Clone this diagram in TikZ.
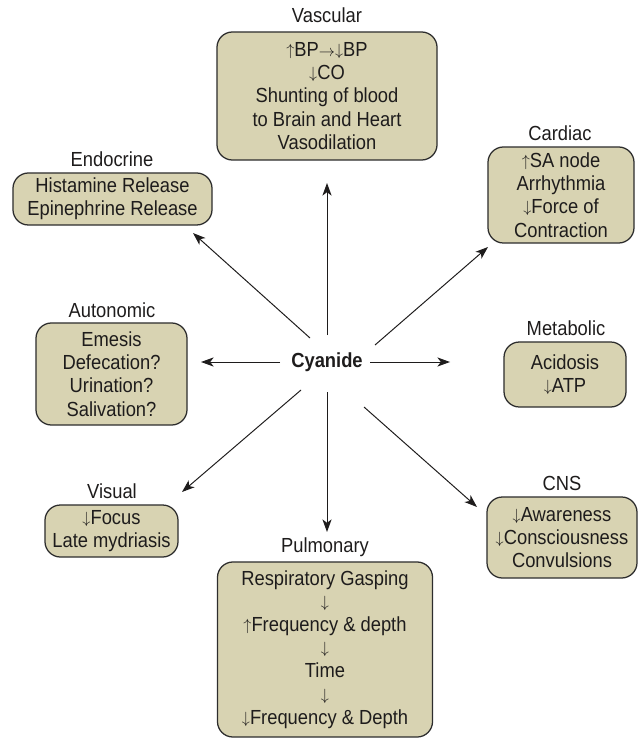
\documentclass[tikz,border=0pt]{standalone}
\usepackage{graphicx}
\usepackage{fontspec}
\setmainfont[FakeStretch=0.9]{Liberation Sans}
\usetikzlibrary{arrows.meta}
\definecolor{boxfill}{RGB}{216,211,178}
\definecolor{boxline}{RGB}{45,45,45}
\definecolor{ink}{RGB}{30,28,28}
\newcommand\uarr{\raisebox{0.05em}{\scalebox{0.8}{$\uparrow$}}}
\newcommand\darr{\raisebox{0.05em}{\scalebox{0.8}{$\downarrow$}}}
\newcommand\rarr{\raisebox{0.02em}{\scalebox{0.8}{$\rightarrow$}}}
\tikzset{
  effect/.style={draw=boxline, fill=boxfill, line width=0.9pt, rounded corners=11pt,
    align=center, inner sep=0pt, font=\fontsize{14.5}{16.5}\selectfont},
  head/.style={inner sep=0pt, font=\fontsize{14.5}{16.5}\selectfont},
  link/.style={-{Stealth[length=9pt,width=6.5pt,inset=2.5pt]}, line width=0.7pt, draw=ink}
}

\begin{document}
\begin{tikzpicture}[x=0.025cm, y=-0.025cm, text=ink]
            \useasboundingbox (0,0) rectangle (642,740);

            \node[head] (vasL) at (327,15) {Vascular};
            \node[effect, minimum width=5.5cm, minimum height=3.2cm] (vas) at (327,96)
                {\uarr BP\rarr\darr BP\\\darr CO\\Shunting of blood\\to Brain and Heart\\Vasodilation};
            \node[head] (endoL) at (112,159) {Endocrine};
            \node[effect, minimum width=4.975cm, minimum height=1.3cm] (endo) at (112.5,199)
                {Histamine Release\\Epinephrine Release};
            \node[head] (cardL) at (560,133) {Cardiac};
            \node[effect, minimum width=3.65cm, minimum height=2.4cm] (card) at (561,195)
                {\uarr SA node\\Arrhythmia\\\darr Force of\\Contraction};
            \node[head] (autoL) at (112,310) {Autonomic};
            \node[effect, minimum width=3.775cm, minimum height=2.55cm] (auto) at (111.5,374)
                {Emesis\\Defecation?\\Urination?\\Salivation?};
            \node[head] (metaL) at (566,328) {Metabolic};
            \node[effect, minimum width=3.05cm, minimum height=1.625cm] (meta) at (565,374.5)
                {Acidosis\\\darr ATP};
            \node[head] (visL) at (112,491) {Visual};
            \node[effect, minimum width=3.325cm, minimum height=1.3cm] (vis) at (111.5,531)
                {\darr Focus\\Late mydriasis};
            \node[head] (cnsL) at (562,483) {CNS};
            \node[effect, minimum width=3.75cm, minimum height=2.025cm] (cns) at (562,537.5)
                {\darr Awareness\\\darr Consciousness\\Convulsions};
            \node[head] (pulmL) at (325,547) {Pulmonary};
            \node[effect, minimum width=5.375cm, minimum height=4.375cm] (pulm) at (325,649.5)
                {Respiratory Gasping\\\darr\\\uarr Frequency \& depth\\\darr\\Time\\\darr\\\darr Frequency \& Depth};

            \node[head, font=\bfseries\fontsize{14.5}{16.5}\selectfont] (cy) at (327,362) {Cyanide};

            \coordinate (S1) at (327,335); \coordinate (T1) at (327,183);
            \coordinate (S2) at (310,338); \coordinate (T2) at (193,233);
            \coordinate (S3) at (375,345); \coordinate (T3) at (488,247);
            \coordinate (S4) at (280,362); \coordinate (T4) at (201,362);
            \coordinate (S5) at (370,362); \coordinate (T5) at (450,362);
            \coordinate (S6) at (301,390); \coordinate (T6) at (182,492);
            \coordinate (S7) at (327,392); \coordinate (T7) at (327,532);
            \coordinate (S8) at (364,407); \coordinate (T8) at (477,507);

            \draw[link] (S1)--(T1);
            \draw[link] (S2)--(T2);
            \draw[link] (S3)--(T3);
            \draw[link] (S4)--(T4);
            \draw[link] (S5)--(T5);
            \draw[link] (S6)--(T6);
            \draw[link] (S7)--(T7);
            \draw[link] (S8)--(T8);
        \end{tikzpicture}
\end{document}
